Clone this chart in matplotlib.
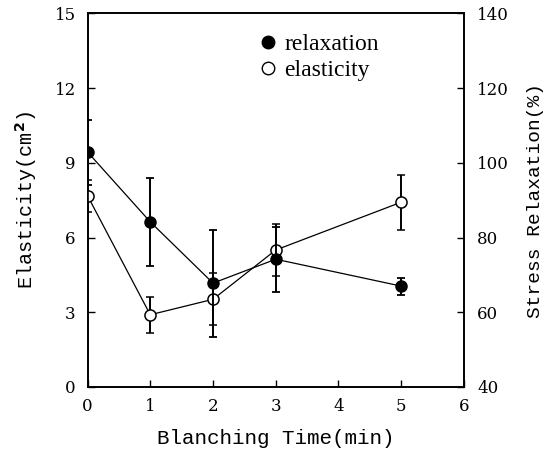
import matplotlib
matplotlib.use("Agg")
import matplotlib.pyplot as plt
from matplotlib.lines import Line2D

time_min = [0, 1, 2, 3, 5]
elasticity = [7.68, 2.90, 3.52, 5.50, 7.42]
elasticity_err = [0.64, 0.73, 1.04, 1.05, 1.10]
relaxation = [102.9, 84.2, 67.8, 74.2, 67.0]
relaxation_err = [8.7, 11.7, 14.3, 8.7, 2.3]

serif = "Liberation Serif"
tickfont = "DejaVu Serif"
mono = "Liberation Mono"

fig = plt.figure(figsize=(5.48, 4.55), dpi=100)
ax = fig.add_axes([0.1597, 0.1495, 0.687, 0.821])
ax2 = ax.twinx()

ax.errorbar(time_min, elasticity, yerr=elasticity_err, color="black", lw=0.9,
            elinewidth=1.4, capsize=3, capthick=1.3, marker="o", ms=8,
            mfc="white", mec="black", mew=1.1, zorder=3)
ax2.errorbar(time_min, relaxation, yerr=relaxation_err, color="black", lw=0.9,
             elinewidth=1.4, capsize=3, capthick=1.3, marker="o", ms=8,
             mfc="black", mec="black", zorder=3)

ax.set_xlim(0, 6)
ax.set_ylim(0, 15)
ax2.set_ylim(40, 140)
ax.set_xticks(range(0, 7))
ax.set_yticks([0, 3, 6, 9, 12, 15])
ax2.set_yticks([40, 60, 80, 100, 120, 140])

for a in (ax, ax2):
    a.tick_params(direction="in", length=5, width=1.0, labelsize=12)
    for lab in a.get_xticklabels() + a.get_yticklabels():
        lab.set_fontfamily(tickfont)
    for s in a.spines.values():
        s.set_linewidth(1.2)
ax.tick_params(axis="x", pad=8)
ax.tick_params(axis="y", pad=8.5)
ax2.tick_params(axis="y", pad=9.5)

ax.set_xlabel("Blanching Time(min)", fontfamily=mono, fontsize=15, labelpad=10)
ax.set_ylabel("Elasticity(cm$^{\\mathbf{2}}$)", fontfamily=mono, fontsize=14.5, labelpad=11)
ax2.set_ylabel("Stress Relaxation(%)", fontfamily=mono, fontsize=14, labelpad=13)

handles = [Line2D([], [], ls="none", marker="o", ms=9, mfc="black", mec="black"),
           Line2D([], [], ls="none", marker="o", ms=9, mfc="white", mec="black", mew=1.0)]
leg = ax.legend(handles, ["relaxation", "elasticity"], loc="upper left",
                bbox_to_anchor=(0.398, 1.002), frameon=False, handlelength=0.8,
                handletextpad=0.3, labelspacing=0.17, prop={"family": serif, "size": 17})

fig.savefig("out.png", dpi=100)
